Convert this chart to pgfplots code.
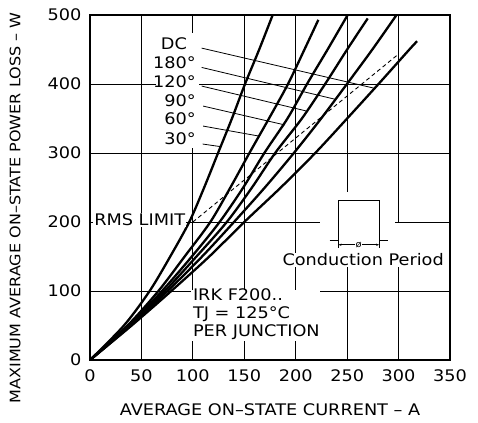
\documentclass[border=0pt]{standalone}
\usepackage{fontspec}
\setmainfont{DejaVu Sans}[FakeStretch=1.11]
\usepackage{pgfplots}
\pgfplotsset{compat=1.18}
\usetikzlibrary{arrows.meta}
\begin{document}
\begin{tikzpicture}[font=\fontsize{16}{19}\selectfont]
\begin{axis}[
 scale only axis, width=360bp, height=345bp,
 xmin=0,xmax=350,ymin=0,ymax=500,
 xtick={0,50,...,350}, ytick={0,100,...,500},
 grid=major, major grid style={black,line width=0.8bp},
 axis line style={line width=1.3bp},
 major tick length=0pt,
 /pgf/number format/assume math mode=true,
 ticklabel style={font=\fontsize{16}{19}\selectfont},
 xticklabel style={yshift=-6bp},
 yticklabel style={xshift=-5bp},
 curve/.style={black, line width=2.3bp, smooth, no markers},
]
% gaps in the grid behind the annotations
\fill[white] (64,307) rectangle (106,474);
\fill[white] (98,28) rectangle (224,101);
\fill[white] (224,150) rectangle (297,243);
\fill[white] (297,150) rectangle (303,199);
% 30 deg
\addplot[curve] coordinates {(0,0) (33,50) (58,100) (78,150) (96.5,200) (111,250) (124.5,300) (138,350) (150.7,400) (164.5,450) (177.6,500)};
% 60 deg
\addplot[curve] coordinates {(0,0) (36.5,50) (66.5,100) (92,150) (117,200) (136.5,250) (155,300) (174,350) (192.5,400) (208.5,450) (222,493)};
% 90 deg
\addplot[curve] coordinates {(0,0) (37.8,50) (70,100) (99,150) (126,200) (149,250) (169.5,300) (192,350) (211,400) (231,450) (250.5,500)};
% 120 deg
\addplot[curve] coordinates {(0,0) (38.7,50) (72.8,100) (103.5,150) (133,200) (157.5,250) (180,300) (206,350) (228.6,400) (250,450) (270,495)};
% 180 deg
\addplot[curve] coordinates {(0,0) (39.6,50) (75.5,100) (109,150) (140,200) (170,250) (198.2,300) (224.7,350) (249.8,400) (274.5,450) (298,500)};
% DC
\addplot[curve] coordinates {(0,0) (40.5,50) (79,100) (116,150) (150,200) (185.5,250) (219,300) (250,350) (280.5,400) (310.5,450) (318,462)};
% RMS limit
\addplot[black, line width=0.9bp, dash pattern=on 4bp off 3bp, no markers] coordinates {(100,200) (298,441)};
% leader lines
\draw[line width=0.8bp] (108.6,452) -- (276,394);
\draw[line width=0.8bp] (108.6,424) -- (238,378);
\draw[line width=0.8bp] (108.6,397) -- (210,361);
\draw[line width=0.8bp] (110,368) -- (189.6,340.6);
\draw[line width=0.8bp] (110,339) -- (164,324.6);
\draw[line width=0.8bp] (109.5,313) -- (128,309);
% labels
\node[anchor=east, inner sep=1bp] at (104,459) {DC\phantom{°}};
\node[anchor=east, inner sep=1bp] at (104,431) {180°};
\node[anchor=east, inner sep=1bp] at (104,403) {120°};
\node[anchor=east, inner sep=1bp] at (104,376) {90°};
\node[anchor=east, inner sep=1bp] at (104,349) {60°};
\node[anchor=east, inner sep=1bp] at (104,321) {30°};
\node[anchor=west, fill=white, inner sep=1bp] at (3,203) {RMS LIMIT};
\node[anchor=west, inner sep=1bp] at (99,94) {IRK F200..};
\node[anchor=west, inner sep=1bp] at (99,67) {TJ = 125°C};
\node[anchor=west, inner sep=1bp] at (99,40) {PER JUNCTION};
\node[anchor=west, fill=white, inner sep=1bp] at (186,145) {Conduction Period};
% conduction pulse sketch
\draw[line width=0.8bp] (233,174) -- (241.6,174) -- (241.6,232) -- (281,232) -- (281,174) -- (290,174);
\draw[line width=0.7bp] (241.6,178) -- (241.6,162);
\draw[line width=0.7bp] (281,178) -- (281,162);
\draw[line width=0.7bp, {Stealth[length=3bp]}-{Stealth[length=3bp]}] (241.6,167) -- (281,167);
\node[fill=white, inner sep=0.5bp, font=\fontsize{9}{10}\selectfont] at (261.3,167) {ø};
\end{axis}
\node[rotate=90, font=\fontsize{14.5}{17}\selectfont] at (-75bp,152bp) {MAXIMUM AVERAGE ON–STATE POWER LOSS – W};
\node at (180bp,-50bp) {AVERAGE ON–STATE CURRENT – A};
\pgfresetboundingbox
\path[use as bounding box] (-90bp,-63bp) rectangle (388bp,360bp);
\end{tikzpicture}
\end{document}
